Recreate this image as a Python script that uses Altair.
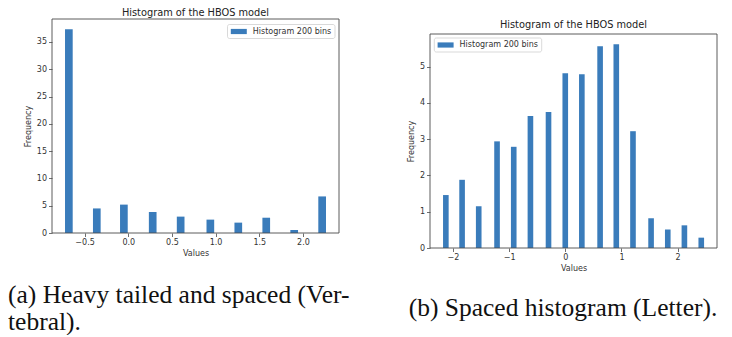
import altair as alt
import pandas as pd

# ---- data ----
left_centers = [-0.68, -0.36, -0.05, 0.28, 0.60, 0.94, 1.26, 1.58, 1.90, 2.22]
left_freq = [37.3, 4.5, 5.2, 3.85, 3.0, 2.45, 1.9, 2.8, 0.55, 6.7]

right_centers = [-2.125, -1.836, -1.54, -1.214, -0.917, -0.62, -0.298, 0.0,
                 0.295, 0.62, 0.908, 1.205, 1.527, 1.824, 2.12, 2.42]
right_freq = [1.46, 1.88, 1.15, 2.94, 2.79, 3.64, 3.75, 4.82,
              4.79, 5.56, 5.62, 3.22, 0.82, 0.51, 0.625, 0.285]

left_xticks = [-0.5, 0.0, 0.5, 1.0, 1.5, 2.0]
left_yticks = [0, 5, 10, 15, 20, 25, 30, 35]
right_xticks = [-2, -1, 0, 1, 2]
right_yticks = [0, 1, 2, 3, 4, 5]

chart_title = "Histogram of the HBOS model"
legend_label = "Histogram 200 bins"
caption_a = ["(a) Heavy tailed and spaced (Ver-", "tebral)."]
caption_b = "(b) Spaced histogram (Letter)."

BAR_COLOR = "#3a7cbb"
FRAME_COLOR = "#4a4a4a"
TEXT_COLOR = "#333333"
SANS = "DejaVu Sans"
SERIF = "Liberation Serif"
CAP_SIZE = 25.5
W = 287

one = pd.DataFrame({"k": [0]})


def panel(centers, freq, bar_w, xdom, ydom, xticks, xfmt, yticks,
          height, top, ytitle_x, title_y, legend_box, captions):
    df = pd.DataFrame({"c": centers, "freq": freq})
    df["x0"] = df["c"] - bar_w / 2
    df["x1"] = df["c"] + bar_w / 2
    df["base"] = 0.0

    bars = alt.Chart(df).mark_bar(color=BAR_COLOR).encode(
        x=alt.X("x0:Q",
                scale=alt.Scale(domain=xdom, nice=False, zero=False),
                axis=alt.Axis(values=xticks, format=xfmt, title="Values",
                              titleX=W / 2, titleY=20, titleBaseline="middle",
                              titleAlign="center")),
        x2="x1:Q",
        y=alt.Y("freq:Q",
                scale=alt.Scale(domain=ydom, nice=False, zero=True,
                                range=[height, top]),
                axis=alt.Axis(values=yticks, format="d", title="Frequency",
                              titleX=ytitle_x, titleY=(height + top) / 2,
                              titleAngle=270, titleBaseline="middle",
                              titleAlign="center")),
        y2="base:Q",
    )

    frame = alt.Chart(one).mark_rect(fillOpacity=0, stroke=FRAME_COLOR,
                                     strokeWidth=0.9).encode(
        x=alt.value(0), x2=alt.value(W), y=alt.value(top), y2=alt.value(height))

    title = alt.Chart(one).mark_text(text=chart_title, font=SANS, fontSize=9.8,
                                     color="#222", baseline="middle",
                                     align="center").encode(
        x=alt.value(W / 2), y=alt.value(title_y))

    bx0, bx1, by0, by1 = legend_box
    box = alt.Chart(one).mark_rect(fill="white", fillOpacity=0.85,
                                   stroke="#cfcfcf", strokeWidth=0.8,
                                   cornerRadius=2).encode(
        x=alt.value(bx0), x2=alt.value(bx1), y=alt.value(by0), y2=alt.value(by1))
    ymid = (by0 + by1) / 2
    patch = alt.Chart(one).mark_rect(color=BAR_COLOR).encode(
        x=alt.value(bx0 + 3.3), x2=alt.value(bx0 + 19.3),
        y=alt.value(ymid - 2.6), y2=alt.value(ymid + 2.6))
    ltext = alt.Chart(one).mark_text(text=legend_label, font=SANS, fontSize=8,
                                     color=TEXT_COLOR, align="left",
                                     baseline="middle").encode(
        x=alt.value(bx0 + 25.3), y=alt.value(ymid))

    layers = [bars, frame, title, box, patch, ltext]
    for (txt, cx, cy, al) in captions:
        layers.append(alt.Chart(one).mark_text(text=txt, font=SERIF, fontSize=CAP_SIZE,
                                               color="#111", align=al,
                                               baseline="alphabetic").encode(
            x=alt.value(cx), y=alt.value(cy)))
    return alt.layer(*layers).properties(width=W, height=height)


left = panel(left_centers, left_freq, 0.088, [-0.873, 2.413], [0, 39.2],
             left_xticks, ".1f", left_yticks,
             height=214, top=0, ytitle_x=-23.7, title_y=-6,
             legend_box=(175.5, 283, 5.5, 19.5),
             captions=[(caption_a[0], -44, 283.5, "left"),
                       (caption_a[1], -44, 310.5, "left")])

anchor = alt.Chart(one).mark_rect(opacity=0).encode(
    x=alt.value(-44), x2=alt.value(-43), y=alt.value(-11), y2=alt.value(-10))
left = alt.layer(left, anchor)

right = panel(right_centers, right_freq, 0.1, [-2.407, 2.70], [0, 5.9],
              right_xticks, "d", right_yticks,
              height=229, top=15, ytitle_x=-18.3, title_y=6,
              legend_box=(4.3, 111.7, 19, 33),
              captions=[(caption_b, 133, 297, "center")])

chart = alt.hconcat(left, right, spacing=91, bounds="flush", padding=0).configure_view(
    stroke=None
).configure_axis(
    domain=False, grid=False,
    tickColor=FRAME_COLOR, tickSize=3.5, tickWidth=0.8,
    labelColor=TEXT_COLOR, labelFont=SANS, labelFontSize=8, labelPadding=2,
    titleColor=TEXT_COLOR, titleFont=SANS, titleFontSize=8, titleFontWeight="normal",
).properties(background="white")

chart.save("out.html", embed_options={"renderer": "svg", "actions": False})
